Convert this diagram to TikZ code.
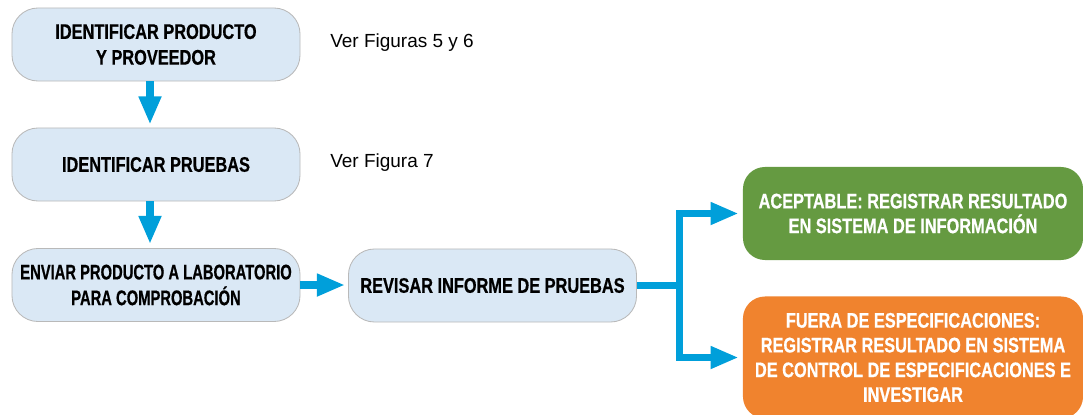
\documentclass[tikz,border=0pt]{standalone}
\usepackage{fontspec}
\setmainfont{Liberation Sans}
\newfontfamily\boxfont[FakeStretch=0.775,BoldFeatures={FakeBold=0.6}]{Liberation Sans}
\newfontfamily\narrowfont[FakeStretch=0.70,BoldFeatures={FakeBold=0.6}]{Liberation Sans}
\usetikzlibrary{arrows.meta}

\definecolor{boxblue}{RGB}{218,232,245}
\definecolor{boxline}{RGB}{185,185,185}
\definecolor{flowblue}{RGB}{0,159,218}
\definecolor{okgreen}{RGB}{101,154,65}
\definecolor{badorange}{RGB}{240,131,46}

\tikzset{
  stepbox/.style={draw=boxline, line width=0.6pt, fill=boxblue, rounded corners=0.65cm,
    minimum width=7.2cm, minimum height=1.825cm, inner sep=0pt, align=center,
    font=\boxfont\bfseries\fontsize{15}{18.3}\selectfont},
  resultbox/.style={draw=none, text=white, rounded corners=0.55cm,
    minimum width=8.5cm, inner sep=0pt, align=center,
    font=\boxfont\bfseries\fontsize{15}{17.6}\selectfont},
  note/.style={anchor=west, inner sep=0pt, font=\fontsize{13.5}{15}\selectfont},
  flow/.style={draw=flowblue, line width=5pt},
  flowarrow/.style={flow, -{Triangle[length=20pt,width=15pt]}}
}

\begin{document}
\begin{tikzpicture}[x=0.025cm,y=-0.025cm]
\useasboundingbox (0,0) rectangle (1083,414);
\clip (0,0) rectangle (1083,414);

%%Steps
\node[stepbox] (product) at (156,44.5) {IDENTIFICAR PRODUCTO\\Y PROVEEDOR};
\node[stepbox] (tests) at (156,164.5) {IDENTIFICAR PRUEBAS};
\node[stepbox, font=\narrowfont\bfseries\fontsize{15}{18.3}\selectfont] (lab) at (156,285)
  {ENVIAR PRODUCTO A LABORATORIO\\PARA COMPROBACIÓN};
\node[stepbox] (review) at (492.5,285.5) {REVISAR INFORME DE PRUEBAS};

%%Results
\node[resultbox, fill=okgreen, minimum height=2.325cm] (ok) at (913,213.5)
  {ACEPTABLE: REGISTRAR RESULTADO\\EN SISTEMA DE INFORMACIÓN};
\node[resultbox, fill=badorange, minimum height=3.05cm] (bad) at (913,357.5)
  {FUERA DE ESPECIFICACIONES:\\REGISTRAR RESULTADO EN SISTEMA\\DE CONTROL DE ESPECIFICACIONES E\\INVESTIGAR};

%%Notes
\node[note] (seeproduct) at (330,43) {Ver Figuras 5 y 6};
\node[note] (seetests) at (330,163) {Ver Figura 7};

%%Arrows
\draw[flowarrow, shorten >=0.075cm] ([xshift=-0.15cm]product.south) -- ([xshift=-0.15cm]tests.north);
\draw[flowarrow, shorten >=0.1cm] ([xshift=-0.15cm]tests.south) -- ([xshift=-0.15cm]lab.north);
\draw[flowarrow, shorten >=0.075cm] (lab.east) -- (lab.east -| review.west);
\path (review.east) ++(43,0) coordinate (fork);
\draw[flow] (review.east) -- (fork);
\draw[flowarrow, shorten >=0.1cm] (fork) |- (ok.west);
\draw[flowarrow, shorten >=0.1cm] (fork) |- (bad.west);

\end{tikzpicture}
\end{document}
